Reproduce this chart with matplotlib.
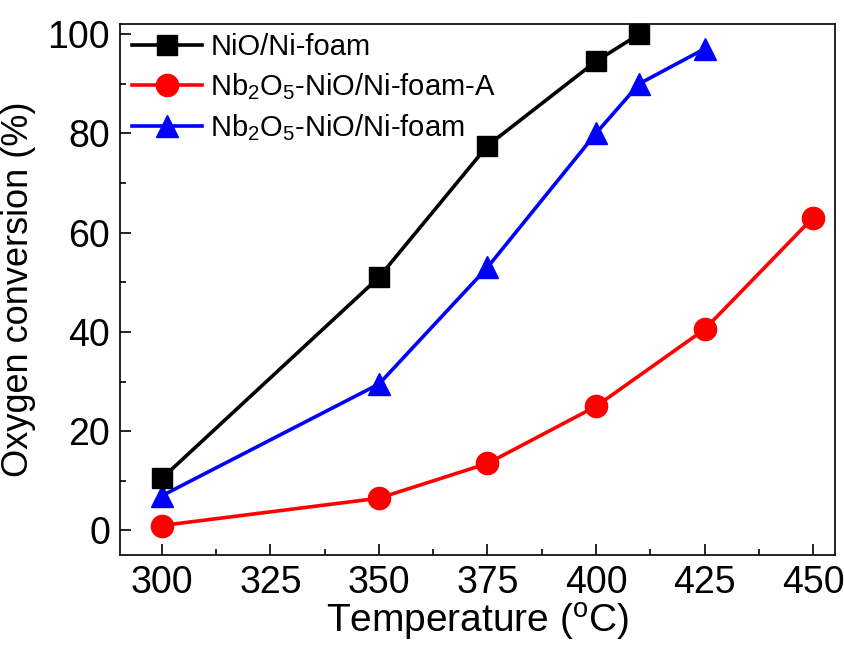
import numpy as np
import matplotlib
matplotlib.use('Agg')
import matplotlib.pyplot as plt
from matplotlib.ticker import MultipleLocator

plt.rcParams['font.family'] = ['Liberation Sans', 'DejaVu Sans']
plt.rcParams['mathtext.fontset'] = 'custom'
plt.rcParams['mathtext.rm'] = 'Liberation Sans'

# data
temp_nio = [300, 350, 375, 400, 410]
conv_nio = [10.5, 51, 77.5, 94.5, 100]

temp_a = [300, 350, 375, 400, 425, 450]
conv_a = [1, 6.5, 13.5, 25, 40.5, 63]

temp_nb = [300, 350, 375, 400, 410, 425]
conv_nb = [7, 29.5, 53, 80, 90, 97]

labels = ['NiO/Ni-foam', r'Nb$_2$O$_5$-NiO/Ni-foam-A', r'Nb$_2$O$_5$-NiO/Ni-foam']

fig = plt.figure(figsize=(8.44, 6.51), dpi=100)
ax = fig.add_axes([0.142, 0.147, 0.847, 0.816])

ax.plot(temp_nio, conv_nio, '-s', color='black', lw=2.6, ms=14, label=labels[0], clip_on=False, zorder=3)
ax.plot(temp_a, conv_a, '-o', color='red', lw=2.6, ms=16, label=labels[1], clip_on=False)
ax.plot(temp_nb, conv_nb, '-^', color='blue', lw=2.6, ms=16, label=labels[2], clip_on=False)

ax.set_xlim(290.3, 455)
ax.set_ylim(-5, 102)
ax.xaxis.set_major_locator(MultipleLocator(25))
ax.xaxis.set_minor_locator(MultipleLocator(12.5))
ax.yaxis.set_major_locator(MultipleLocator(20))
ax.yaxis.set_minor_locator(MultipleLocator(10))
ax.tick_params(which='both', direction='in', labelsize=27)
ax.tick_params(which='major', length=8, width=1.2, pad=7)
ax.tick_params(which='minor', length=4, width=1.2)
for s in ax.spines.values():
    s.set_linewidth(1.2)

ax.set_xlabel(r'Temperature ($^\mathregular{o}$C)', fontsize=28, labelpad=0)
ax.set_ylabel('Oxygen conversion (%)', fontsize=26, labelpad=8)

ax.legend(loc='upper left', frameon=False, fontsize=21, handlelength=2.4,
          borderaxespad=0.0, labelspacing=0.35, handletextpad=0.3,
          bbox_to_anchor=(0.0, 1.005))

fig.savefig('out.png', dpi=100)
